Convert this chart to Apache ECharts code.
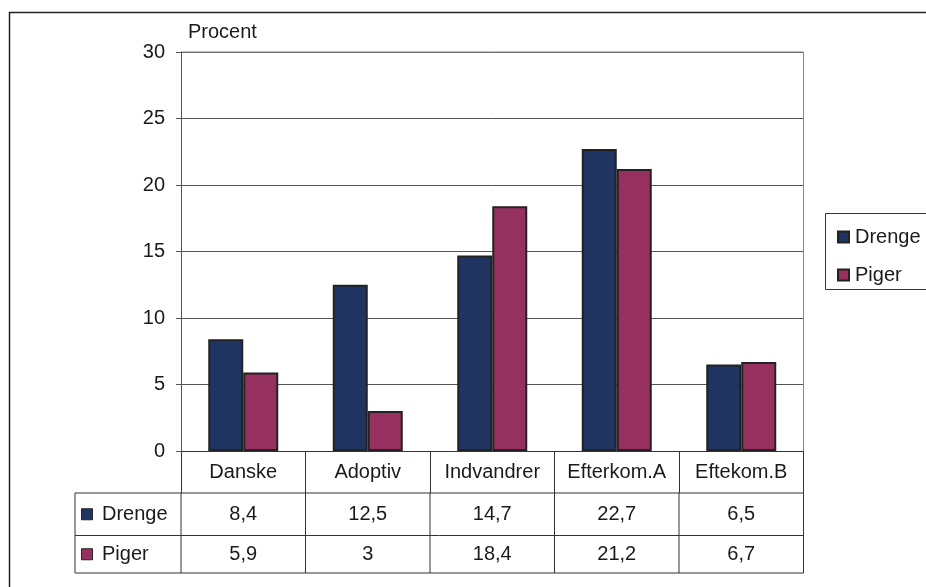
<!DOCTYPE html>
<html><head><meta charset="utf-8">
<script src="https://cdn.jsdelivr.net/npm/echarts@6/dist/echarts.min.js"></script>
<style>html,body{margin:0;padding:0;background:#fff}#c{width:926px;height:587px}</style>
</head><body><div id="c"></div>
<script>
const categories = ['Danske', 'Adoptiv', 'Indvandrer', 'Efterkom.A', 'Eftekom.B'];
const seriesNames = ['Drenge', 'Piger'];
const drenge = [8.4, 12.5, 14.7, 22.7, 6.5];
const piger = [5.9, 3, 18.4, 21.2, 6.7];
const yAxisName = 'Procent';

const FONT = '"Liberation Sans", Arial, sans-serif';
const TXT = '#1a1a1a';
const colors = ['#1f3461', '#96305e'];
const fmt = v => String(v).replace('.', ',');

const chart = echarts.init(document.getElementById('c'), null, {renderer: 'canvas'});
const base = {
  backgroundColor: '#fff',
  animation: false,
  textStyle: {fontFamily: FONT},
  grid: {left: 181, right: 122.5, top: 52, bottom: 136, containLabel: false},
  legend: {
    orient: 'vertical', left: 832, top: 222, itemWidth: 11, itemHeight: 11, itemGap: 18,
    icon: 'rect', data: seriesNames,
    textStyle: {fontFamily: FONT, fontSize: 20, color: TXT, padding: [0, 0, 0, 1]}
  },
  xAxis: {
    type: 'category', data: categories,
    axisLine: {show: true, lineStyle: {color: '#333', width: 1}},
    axisTick: {show: true, interval: 0, length: 42, lineStyle: {color: '#333'}},
    axisLabel: {interval: 0, fontFamily: FONT, fontSize: 20, color: TXT, margin: 11},
    splitLine: {show: false}
  },
  yAxis: {
    type: 'value', min: 0, max: 30, interval: 5,
    name: yAxisName, nameLocation: 'end', nameGap: 10,
    nameTextStyle: {fontFamily: FONT, fontSize: 20, color: TXT, align: 'left', padding: [0, 0, 0, 7]},
    axisLine: {show: true, lineStyle: {color: '#555'}},
    axisTick: {show: true, length: 5, lineStyle: {color: '#555'}},
    axisLabel: {fontFamily: FONT, fontSize: 20, color: TXT, margin: 16},
    splitLine: {show: true, lineStyle: {color: '#555', width: 1}}
  },
  series: [
    {name: seriesNames[0], type: 'bar', data: drenge, barWidth: 35, barGap: '0%',
     itemStyle: {color: colors[0], borderColor: '#222', borderWidth: 2}},
    {name: seriesNames[1], type: 'bar', data: piger, barWidth: 35, barGap: '0%',
     itemStyle: {color: colors[1], borderColor: '#222', borderWidth: 2}}
  ]
};
chart.setOption(base);

// Build data table and frames from the axes' own pixel mapping
const c0 = chart.convertToPixel({xAxisIndex: 0}, 0);
const c1 = chart.convertToPixel({xAxisIndex: 0}, 1);
const band = c1 - c0;
const xLeft = c0 - band / 2;
const xRight = xLeft + band * categories.length;
const yZero = chart.convertToPixel({yAxisIndex: 0}, 0);
const yTop = chart.convertToPixel({yAxisIndex: 0}, 30);
const rowTops = [yZero + 42, yZero + 84.5];
const tableBottom = yZero + 122;
const tableLeft = 75;
const g = [];
const line = (x1, y1, x2, y2, color, w) => g.push({type: 'line', shape: {x1, y1, x2, y2}, style: {stroke: color, lineWidth: w || 1}, silent: true});

// outer frame
g.push({type: 'rect', shape: {x: 9.5, y: 12.5, width: 1000, height: 1000}, style: {fill: null, stroke: '#222', lineWidth: 1.5}, silent: true, z: 0});
// plot right border
line(xRight, yTop, xRight, yZero, '#888');
line(xLeft, yTop, xRight, yTop, '#888');
// table horizontal lines
rowTops.concat([tableBottom]).forEach(y => line(tableLeft, y, xRight, y, '#333'));
// table vertical lines
line(tableLeft, rowTops[0], tableLeft, tableBottom, '#333');
for (let i = 0; i <= categories.length; i++) {
  const x = xLeft + band * i;
  line(x, yZero + 42, x, tableBottom, '#333');
}
// row headers & values
const rows = [drenge, piger];
rows.forEach((vals, r) => {
  const yc = (rowTops[r] + (r + 1 < rowTops.length ? rowTops[r + 1] : tableBottom)) / 2;
  g.push({type: 'rect', shape: {x: 81.5, y: yc - 5.5, width: 11, height: 11}, style: {fill: colors[r], stroke: '#222', lineWidth: 1}, silent: true});
  g.push({type: 'text', x: 102, y: yc, style: {text: seriesNames[r], font: '20px ' + FONT, fill: TXT, textAlign: 'left', textVerticalAlign: 'middle'}, silent: true});
  vals.forEach((v, i) => {
    const xc = chart.convertToPixel({xAxisIndex: 0}, i);
    g.push({type: 'text', x: xc, y: yc, style: {text: fmt(v), font: '20px ' + FONT, fill: TXT, textAlign: 'center', textVerticalAlign: 'middle'}, silent: true});
  });
});
// legend box
g.push({type: 'rect', shape: {x: 825.5, y: 213.5, width: 200, height: 76}, style: {fill: null, stroke: '#333', lineWidth: 1}, silent: true});
chart.setOption({graphic: g});
</script>
</body></html>
